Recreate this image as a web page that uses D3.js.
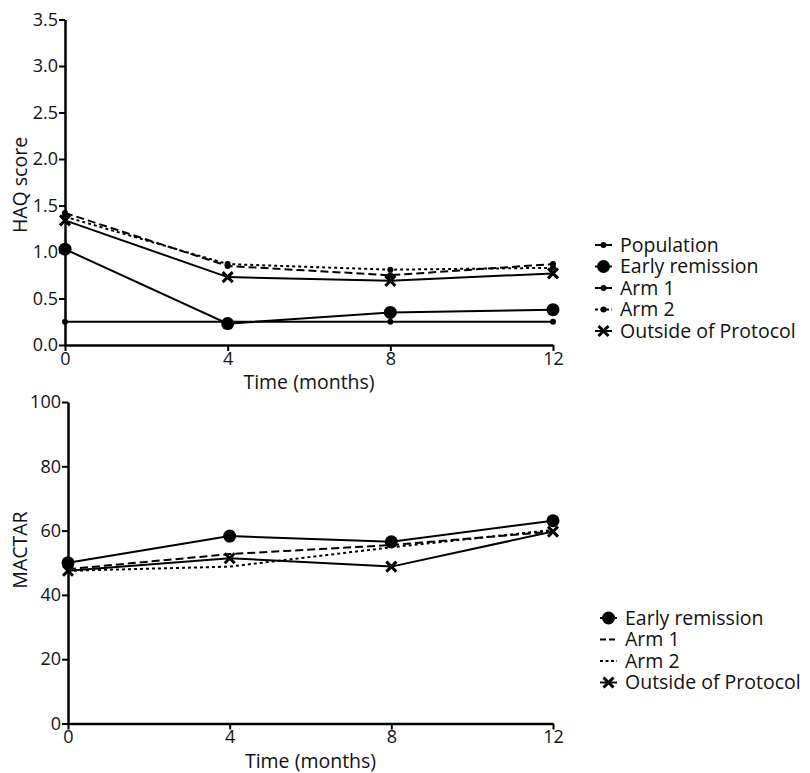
<!DOCTYPE html>
<html>
<head>
<meta charset="utf-8">
<script src="https://cdn.jsdelivr.net/npm/d3@7"></script>
<style>
   body { margin: 0; background: #fff; }
   text { font-family: "Open Sans", "Noto Sans", sans-serif; fill: #111; }
</style>
</head>
<body>
<div class="chart-container"></div>
<script>
// months on the x axis
const months = [0, 4, 8, 12];

// HAQ score panel
const haq_population = [0.25, 0.25, 0.25, 0.25];
const haq_early = [1.03, 0.23, 0.35, 0.38];
const haq_arm1 = [1.42, 0.85, 0.75, 0.87];
const haq_arm2 = [1.38, 0.87, 0.81, 0.83];
const haq_outside = [1.34, 0.73, 0.69, 0.77];
const haq_ticks = [0, 0.5, 1, 1.5, 2, 2.5, 3, 3.5];

// MACTAR panel
const mactar_early = [50.0, 58.3, 56.5, 63.1];
const mactar_arm1 = [48.0, 52.7, 55.5, 59.7];
const mactar_arm2 = [47.5, 48.8, 54.8, 60.2];
const mactar_outside = [47.5, 51.4, 48.8, 59.7];
const mactar_ticks = [0, 20, 40, 60, 80, 100];

const series_names = ['Population', 'Early remission', 'Arm 1', 'Arm 2', 'Outside of Protocol'];

// look of each series: marker kind and dash pattern
const styles = {
   'Population': {marker: 'dot', dash: null},
   'Early remission': {marker: 'circle', dash: null},
   'Arm 1': {marker: 'dot', dash: '8,4'},
   'Arm 2': {marker: 'dot', dash: '3,3'},
   'Outside of Protocol': {marker: 'cross', dash: null}
};

const svg = d3.select('.chart-container')
   .append('svg')
   .attr('width', 810)
   .attr('height', 773);

function draw_marker(g, kind, x, y) {
   if (kind === 'circle') {
      g.append('circle').attr('cx', x).attr('cy', y).attr('r', 6.5).attr('fill', '#000');
   } else if (kind === 'dot') {
      g.append('circle').attr('cx', x).attr('cy', y).attr('r', 3).attr('fill', '#000');
   } else if (kind === 'cross') {
      const s = 5;
      g.append('path')
         .attr('d', `M${x - s},${y - s}L${x + s},${y + s}M${x - s},${y + s}L${x + s},${y - s}`)
         .attr('stroke', '#000')
         .attr('stroke-width', 3);
   }
}

function draw_panel(cfg) {
   const xScale = d3.scaleLinear().domain([0, 12]).range(cfg.xRange);
   const yScale = d3.scaleLinear().domain(cfg.yDomain).range(cfg.yRange);
   const g = svg.append('g');

   const yAxis = d3.axisLeft(yScale)
      .tickValues(cfg.ticks)
      .tickFormat(cfg.format)
      .tickSizeInner(6)
      .tickSizeOuter(0)
      .tickPadding(1);
   const yAxisDraw = g.append('g')
      .attr('transform', `translate(${cfg.xRange[0]},0)`)
      .call(yAxis);

   const xAxis = d3.axisBottom(xScale)
      .tickValues(months)
      .tickSizeInner(6)
      .tickSizeOuter(0)
      .tickPadding(1);
   const xAxisDraw = g.append('g')
      .attr('transform', `translate(0,${cfg.yRange[0]})`)
      .call(xAxis);

   [yAxisDraw, xAxisDraw].forEach(a => {
      a.select('.domain').attr('stroke', '#000').attr('stroke-width', 2.5);
      a.selectAll('.tick line').attr('stroke', '#000').attr('stroke-width', 2);
      a.selectAll('text').style('font-size', '18px').attr('fill', '#111');
   });

   g.append('text')
      .attr('transform', `translate(27,${cfg.yLabelY}) rotate(-90)`)
      .attr('text-anchor', 'middle')
      .style('font-size', '19.5px')
      .text(cfg.yLabel);

   g.append('text')
      .attr('x', (cfg.xRange[0] + cfg.xRange[1]) / 2)
      .attr('y', cfg.yRange[0] + 44)
      .attr('text-anchor', 'middle')
      .style('font-size', '19.5px')
      .text('Time (months)');

   const line = d3.line()
      .x((d, i) => xScale(months[i]))
      .y(d => yScale(d));

   cfg.series.forEach(s => {
      const st = styles[s.name];
      g.append('path')
         .datum(s.values)
         .attr('d', line)
         .attr('fill', 'none')
         .attr('stroke', '#000')
         .attr('stroke-width', 2)
         .attr('stroke-dasharray', st.dash);
      if (cfg.markers || st.marker !== 'dot') {
         s.values.forEach((v, i) => draw_marker(g, st.marker, xScale(months[i]), yScale(v)));
      }
   });

   // legend
   const legend = g.append('g');
   cfg.series.forEach((s, i) => {
      const st = styles[s.name];
      const y = cfg.legendY + i * 21.5;
      const x0 = cfg.legendX;
      legend.append('line')
         .attr('x1', x0).attr('x2', x0 + 17)
         .attr('y1', y).attr('y2', y)
         .attr('stroke', '#000')
         .attr('stroke-width', 2)
         .attr('stroke-dasharray', st.dash ? (st.dash === '8,4' ? (cfg.markers ? null : '6,3') : '3,2.5') : null);
      if (cfg.markers || st.marker !== 'dot') {
         draw_marker(legend, st.marker, x0 + 8.5, y);
      }
      legend.append('text')
         .attr('x', x0 + 25)
         .attr('y', y)
         .attr('dy', '0.35em')
         .style('font-size', '19.5px')
         .text(s.name);
   });
}

draw_panel({
   xRange: [65, 553],
   yRange: [345, 19.5],
   yDomain: [0, 3.5],
   ticks: haq_ticks,
   format: d3.format('.1f'),
   yLabel: 'HAQ score',
   yLabelY: 185,
   markers: true,
   legendX: 595,
   legendY: 245,
   series: [
      {name: series_names[0], values: haq_population},
      {name: series_names[1], values: haq_early},
      {name: series_names[2], values: haq_arm1},
      {name: series_names[3], values: haq_arm2},
      {name: series_names[4], values: haq_outside}
   ]
});

draw_panel({
   xRange: [68, 553],
   yRange: [723.5, 402],
   yDomain: [0, 100],
   ticks: mactar_ticks,
   format: d3.format('d'),
   yLabel: 'MACTAR',
   yLabelY: 550,
   markers: false,
   legendX: 600,
   legendY: 618,
   series: [
      {name: series_names[1], values: mactar_early},
      {name: series_names[2], values: mactar_arm1},
      {name: series_names[3], values: mactar_arm2},
      {name: series_names[4], values: mactar_outside}
   ]
});
</script>
</body>
</html>
